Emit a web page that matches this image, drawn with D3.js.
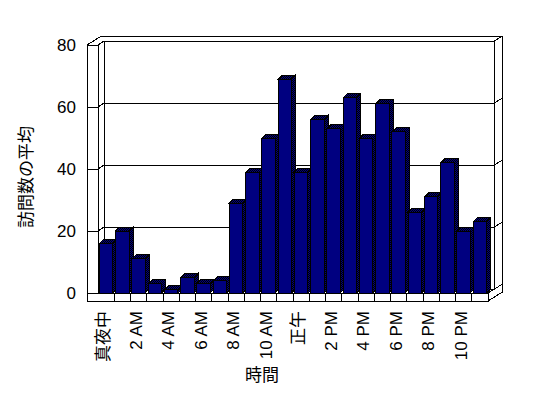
<!DOCTYPE html>
<html>
<head>
<meta charset="utf-8">
<script src="https://cdn.jsdelivr.net/npm/d3@7"></script>
<style>
  body { margin: 0; background: #fff; }
  text { font-family: "Liberation Sans", "Noto Sans CJK JP", sans-serif; fill: #000; }
</style>
</head>
<body>
<script>

var width = 548
var height = 398

// data

var hours = ["真夜中", "1 AM", "2 AM", "3 AM", "4 AM", "5 AM", "6 AM", "7 AM",
             "8 AM", "9 AM", "10 AM", "11 AM", "正午", "1 PM", "2 PM", "3 PM",
             "4 PM", "5 PM", "6 PM", "7 PM", "8 PM", "9 PM", "10 PM", "11 PM"]

var visits = [16, 20, 11, 3, 1, 5, 3, 4, 29, 39, 50, 69,
              39, 56, 53, 63, 50, 61, 52, 26, 31, 42, 20, 23]

// only every other hour gets a label
var shownLabels = ["真夜中", "2 AM", "4 AM", "6 AM", "8 AM", "10 AM",
                   "正午", "2 PM", "4 PM", "6 PM", "8 PM", "10 PM"]

var yTicks = [0, 20, 40, 60, 80]

var xTitle = "時間"
var yTitle = "訪問数の平均"

// SVG

var svg = d3.select("body")
            .append("svg")
            .attr("width", width)
            .attr("height", height)

var defs = svg.append("defs")
var pat = defs.append("pattern")
  .attr("id", "dither")
  .attr("patternUnits", "userSpaceOnUse")
  .attr("width", 2)
  .attr("height", 2)
pat.append("rect").attr("width", 2).attr("height", 2).attr("fill", "#000080")
pat.append("rect").attr("width", 1).attr("height", 1).attr("fill", "#000")
pat.append("rect").attr("x", 1).attr("y", 1).attr("width", 1).attr("height", 1).attr("fill", "#000")

// scales

var x = d3.scaleBand()
  .domain(hours)
  .range([98, 488])
  .paddingInner(0.18)
  .paddingOuter(0.09)

var y = d3.scaleLinear()
  .domain([0, 80])
  .range([293, 45])

var x0 = x.range()[0], x1 = x.range()[1]
var y0 = y(0), yTop = y(80)

// depth offsets: back wall front face, back wall rear, bar depth
var d1 = [6, -4]
var d2 = [14.5, -9]
var bd = [4, -4]
var wallLeft = 87     // left wall outer edge
var floorBottom = 301 // floor front face bottom

var frame = svg.append("g")
  .attr("fill", "none")
  .attr("stroke", "#000")
  .attr("stroke-width", 1)
  .attr("shape-rendering", "crispEdges")

function pts(a) {
  return a.map(function(p){ return p.join(",") }).join(" ")
}

// outer silhouette
frame.append("polygon")
  .attr("fill", "#fff")
  .attr("points", pts([
    [wallLeft, yTop], [wallLeft + d2[0], yTop + d2[1]], [x1 + d2[0], yTop + d2[1]],
    [x1 + d2[0], floorBottom + d2[1]], [x1, floorBottom], [wallLeft, floorBottom]
  ]))

// back wall front face
frame.append("rect")
  .attr("x", x0 + d1[0])
  .attr("y", yTop + d1[1])
  .attr("width", x1 - x0)
  .attr("height", y0 - yTop)

frame.append("line")
  .attr("x1", x1 + d1[0]).attr("y1", yTop + d1[1])
  .attr("x2", x1 + d2[0]).attr("y2", yTop + d2[1])

// gridlines
var grid = yTicks.filter(function(v){ return v > 0 && v < 80 })
frame.selectAll("polyline.grid")
  .data(grid)
  .enter()
  .append("polyline")
  .classed("grid", true)
  .attr("points", function(v){
    var yy = y(v)
    return pts([
      [wallLeft, yy], [x0, yy], [x0 + d1[0], yy + d1[1]],
      [x1 + d1[0], yy + d1[1]], [x1 + d2[0], yy + d2[1]]
    ])
  })

// left wall
frame.append("rect")
  .attr("fill", "#fff")
  .attr("x", wallLeft)
  .attr("y", yTop)
  .attr("width", x0 - wallLeft)
  .attr("height", y0 - yTop)
frame.append("line")
  .attr("x1", x0).attr("y1", yTop)
  .attr("x2", x0 + d1[0]).attr("y2", yTop + d1[1])
grid.forEach(function(v){
  frame.append("line")
    .attr("x1", wallLeft).attr("y1", y(v))
    .attr("x2", x0).attr("y2", y(v))
})

// floor
frame.append("polygon")
  .attr("fill", "#fff")
  .attr("points", pts([
    [x1, y0], [x1 + d2[0], y0 + d2[1]], [x1 + d2[0], floorBottom + d2[1]], [x1, floorBottom]
  ]))
frame.append("rect")
  .attr("fill", "#fff")
  .attr("x", wallLeft)
  .attr("y", y0)
  .attr("width", x1 - wallLeft)
  .attr("height", floorBottom - y0)

// bars
var bars = svg.append("g")
  .attr("stroke", "#000")
  .attr("stroke-width", 1)
  .attr("shape-rendering", "crispEdges")

var bar = bars.selectAll("g.bar")
  .data(visits)
  .enter()
  .append("g")
  .classed("bar", true)

bar.append("polygon")
  .attr("fill", "url(#dither)")
  .attr("points", function(d, i){
    var l = x(hours[i]), r = l + x.bandwidth(), t = y(d)
    return pts([[r, t], [r + bd[0], t + bd[1]], [r + bd[0], y0 + bd[1]], [r, y0]])
  })

bar.append("polygon")
  .attr("fill", "url(#dither)")
  .attr("points", function(d, i){
    var l = x(hours[i]), r = l + x.bandwidth(), t = y(d)
    return pts([[l, t], [l + bd[0], t + bd[1]], [r + bd[0], t + bd[1]], [r, t]])
  })

bar.append("rect")
  .attr("fill", "#000080")
  .attr("x", function(d, i){ return x(hours[i]) })
  .attr("y", function(d){ return y(d) })
  .attr("width", x.bandwidth())
  .attr("height", function(d){ return y0 - y(d) })

// category ticks on the floor front face
frame.selectAll("line.tick")
  .data(d3.range(1, hours.length))
  .enter()
  .append("line")
  .attr("x1", function(i){ return x0 + i * x.step() })
  .attr("x2", function(i){ return x0 + i * x.step() })
  .attr("y1", y0)
  .attr("y2", floorBottom)

// y tick labels
svg.selectAll("text.ytick")
  .data(yTicks)
  .enter()
  .append("text")
  .attr("x", 76)
  .attr("y", function(d){ return y(d) })
  .attr("dy", "0.35em")
  .attr("text-anchor", "end")
  .attr("font-size", 17)
  .text(function(d){ return d })

// x tick labels, rotated
svg.selectAll("text.xtick")
  .data(shownLabels)
  .enter()
  .append("text")
  .attr("transform", function(d){
    var cx = x(d) + x.bandwidth() / 2
    return "translate(" + (cx + 3) + ",311) rotate(-90)"
  })
  .attr("text-anchor", "end")
  .attr("font-size", 17)
  .text(function(d){ return d })

// axis titles
svg.append("text")
  .attr("x", 262)
  .attr("y", 381)
  .attr("text-anchor", "middle")
  .attr("font-size", 17)
  .text(xTitle)

svg.append("text")
  .attr("transform", "translate(32,177) rotate(-90)")
  .attr("text-anchor", "middle")
  .attr("font-size", 17)
  .text(yTitle)

</script>
</body>
</html>
